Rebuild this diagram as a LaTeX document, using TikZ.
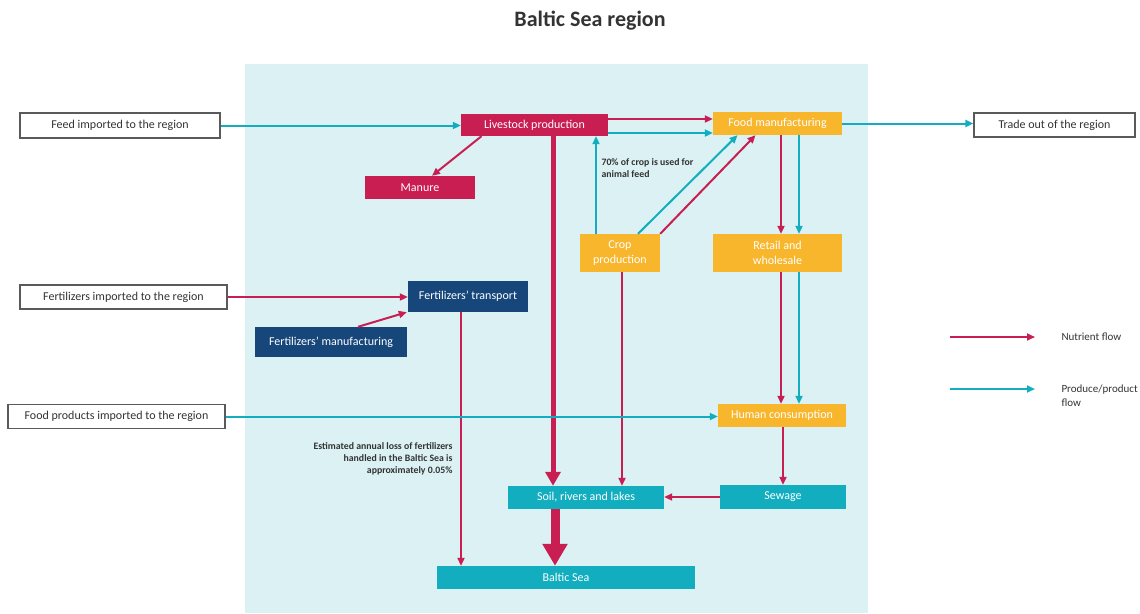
\documentclass[tikz,border=0pt]{standalone}
\usepackage{fontspec}
\setmainfont{Carlito}
\usetikzlibrary{arrows.meta,positioning}
\definecolor{seabg}{HTML}{DBF1F4}
\definecolor{nutred}{HTML}{C81E52}
\definecolor{prodteal}{HTML}{12AEC0}
\definecolor{foodorange}{HTML}{F8B62D}
\definecolor{fertnavy}{HTML}{16467A}
\definecolor{edgegray}{HTML}{5A5A5A}
\definecolor{textgray}{HTML}{333333}
\tikzset{
  flowbox/.style={rectangle,inner sep=0pt,text=white,align=center,
    font=\fontsize{12}{15}\selectfont},
  outbox/.style={rectangle,inner sep=0pt,fill=white,draw=edgegray,line width=1.2pt,
    text=textgray,font=\fontsize{12}{14}\selectfont},
  nutrient/.style={draw=nutred,line width=2pt,-{Triangle[length=8pt,width=7pt]}},
  produce/.style={draw=prodteal,line width=2pt,-{Triangle[length=8pt,width=7pt]}},
  note/.style={text=textgray,font=\bfseries\fontsize{9.8}{12}\selectfont}
}
\begin{document}
\begin{tikzpicture}[x=1pt,y=-1pt]
\useasboundingbox (0,0) rectangle (1140,613);
\fill[seabg](245,64) rectangle (868,613); %region
\node[font=\bfseries\fontsize{22}{24}\selectfont,text=textgray] (title) at (590,21) {Baltic Sea region};
%boxes outside the region
\node[outbox,minimum width=200pt,minimum height=25pt] (feedimp) at (120,125.5) {Feed imported to the region};
\node[outbox,minimum width=161pt,minimum height=24pt] (trade) at (1054.5,125) {Trade out of the region};
\node[outbox,minimum width=207pt,minimum height=24pt] (fertimp) at (123.5,297) {Fertilizers imported to the region};
\node[outbox,minimum width=217pt,minimum height=24pt] (foodimp) at (116.5,416.5) {Food products imported to the region};
%boxes inside the region
\node[flowbox,fill=nutred,minimum width=147pt,minimum height=22pt] (livestock) at (534.5,125) {Livestock production};
\node[flowbox,fill=nutred,minimum width=110pt,minimum height=23pt] (manure) at (420,187.5) {Manure};
\node[flowbox,fill=foodorange,minimum width=129pt,minimum height=23pt] (foodman) at (777.5,123.5) {Food manufacturing};
\node[flowbox,fill=foodorange,minimum width=80pt,minimum height=38pt] (crop) at (620,253) {Crop\\production};
\node[flowbox,fill=foodorange,minimum width=129pt,minimum height=38pt] (retail) at (777.5,253) {Retail and\\wholesale};
\node[flowbox,fill=fertnavy,minimum width=120pt,minimum height=31pt] (ferttrans) at (468,296.5) {Fertilizers’ transport};
\node[flowbox,fill=fertnavy,minimum width=152pt,minimum height=30pt] (fertman) at (331,342) {Fertilizers’ manufacturing};
\node[flowbox,fill=foodorange,minimum width=128pt,minimum height=23pt] (human) at (782,415.5) {Human consumption};
\node[flowbox,fill=prodteal,minimum width=126pt,minimum height=24pt] (sewage) at (783,497) {Sewage};
\node[flowbox,fill=prodteal,minimum width=156pt,minimum height=23pt] (soil) at (586,497.5) {Soil, rivers and lakes};
\node[flowbox,fill=prodteal,minimum width=258pt,minimum height=23pt] (baltic) at (566,577.5) {Baltic Sea};
%flows
\draw[produce](feedimp.east)--(feedimp.east-|livestock.west);
\draw[nutrient]([yshift=6pt]livestock.east)--([yshift=6pt]livestock.east-|foodman.west);
\draw[produce]([yshift=-8pt]livestock.east)--([yshift=-8pt]livestock.east-|foodman.west);
\draw[produce](foodman.east)--(foodman.east-|trade.west);
\draw[nutrient]([xshift=-53pt]livestock.south)--([xshift=12pt]manure.north);
\draw[draw=nutred,line width=5pt,-{Triangle[length=14pt,width=15pt]}]
([xshift=18.5pt]livestock.south)--([xshift=18.5pt]livestock.south|-soil.north);
\draw[produce]([xshift=-24pt]crop.north)--([xshift=-24pt]crop.north|-livestock.south);
\draw[produce]([xshift=18pt]crop.north)--([xshift=-40pt]foodman.south);
\draw[nutrient](crop.north east)--([xshift=-22pt]foodman.south);
\draw[nutrient]([xshift=3.5pt]foodman.south)--([xshift=3.5pt]foodman.south|-retail.north);
\draw[produce]([xshift=21.5pt]foodman.south)--([xshift=21.5pt]foodman.south|-retail.north);
\draw[nutrient]([xshift=3.5pt]retail.south)--([xshift=3.5pt]retail.south|-human.north);
\draw[produce]([xshift=21.5pt]retail.south)--([xshift=21.5pt]retail.south|-human.north);
\draw[nutrient]([xshift=2pt]crop.south)--([xshift=2pt]crop.south|-soil.north);
\draw[nutrient](fertimp.east)--(fertimp.east-|ferttrans.west);
\draw[nutrient]([xshift=27pt]fertman.north)--([xshift=-1pt]ferttrans.south west);
\draw[nutrient]([xshift=-7pt]ferttrans.south)--([xshift=-7pt]ferttrans.south|-baltic.north);
\draw[produce](foodimp.east)--(foodimp.east-|human.west);
\draw[nutrient]([xshift=1pt]human.south)--([xshift=1pt]human.south|-sewage.north);
\draw[nutrient](sewage.west)--(sewage.west-|soil.east);
\draw[draw=nutred,line width=9pt,-{Triangle[length=22pt,width=24pt]}]
([xshift=-31pt]soil.south)--([xshift=-31pt]soil.south|-baltic.north);
%labels
\node[note,align=left,anchor=north west] (cropnote) at (598,155) {70\% of crop is used for\\animal feed};
\node[note,align=right,anchor=north east] (lossnote) at (456,439) {Estimated annual loss of fertilizers\\handled in the Baltic Sea is\\approximately 0.05\%};
%legend
\coordinate (nutA) at (950,337);
\coordinate (nutB) at (1035,337);
\coordinate (prodA) at (950,389);
\coordinate (prodB) at (1035,389);
\draw[nutrient](nutA)--(nutB);
\draw[produce](prodA)--(prodB);
\node[anchor=west,text=textgray,font=\fontsize{11}{14}\selectfont] (nutlabel) at (1058,337) {Nutrient flow};
\node[anchor=west,align=left,text=textgray,font=\fontsize{11}{14}\selectfont] (prodlabel) at (1058,396) {Produce/product\\flow};
\end{tikzpicture}
\end{document}
